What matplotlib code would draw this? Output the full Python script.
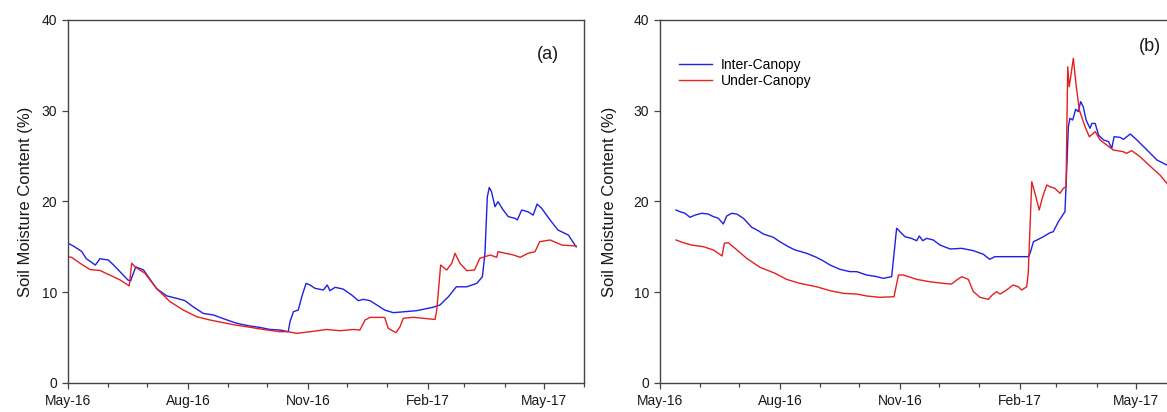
import matplotlib
matplotlib.use("Agg")
import matplotlib.pyplot as plt
import matplotlib.dates as mdates
import pandas as pd

plt.rcParams["font.family"] = ["Liberation Sans", "DejaVu Sans"]

START = pd.Timestamp("2016-05-01")

# Panel (a): days since 1 May 2016 and soil moisture (%)
a_inter_day = [0, 4, 10.5, 14, 21, 24.5, 31, 35, 41, 46, 48, 52, 58, 61.6, 68, 75.7, 83.4, 89.8, 96,
               103.8, 111.5, 119, 128, 132, 139.7, 147, 155, 162.7, 169, 170.4, 173, 176.7, 179.4,
               182.7, 185.7, 189.6, 196, 199, 201, 205, 211, 217.7, 222.8, 226.6, 231.8, 237, 243,
               249.6, 258.6, 267.6, 280, 285.5, 291.9, 298, 306, 313.7, 318, 320, 321.8, 323.3, 325,
               327.7, 330, 334, 337.9, 343, 344.8, 348.2, 353, 357, 360, 363.5, 370, 376, 384, 390]
a_inter_val = [15.4, 15.1, 14.5, 13.7, 13.0, 13.7, 13.55, 13.0, 12.1, 11.35, 11.24, 12.8, 12.45, 11.7,
               10.4, 9.6, 9.33, 9.07, 8.4, 7.67, 7.5, 7.1, 6.65, 6.5, 6.28, 6.13, 5.9, 5.84, 5.65,
               6.76, 7.86, 8.04, 9.5, 10.98, 10.8, 10.43, 10.25, 10.8, 10.17, 10.54, 10.36, 9.7, 9.07,
               9.22, 9.07, 8.6, 8.04, 7.75, 7.86, 7.97, 8.34, 8.6, 9.5, 10.6, 10.6, 10.98, 11.7, 14.3,
               20.5, 21.55, 21.08, 19.43, 19.98, 19.06, 18.33, 18.15, 17.96, 19.06, 18.87, 18.5,
               19.72, 19.25, 17.96, 16.86, 16.3, 15.0]

a_under_day = [0, 2.8, 9.2, 16.9, 24.5, 32, 40, 46, 47, 48.9, 51.4, 59, 68, 78.3, 88.5, 98.8, 109,
               119, 128, 137, 150, 162.7, 169, 175.5, 185.7, 198.5, 208.7, 219, 224, 228, 231.8,
               243, 245.8, 251.7, 254.8, 257.3, 265, 281.7, 283, 286, 290.6, 294.5, 297, 300.8, 306,
               312, 316, 324, 329, 330, 342, 347, 353, 358.4, 362, 370, 379, 390]
a_under_val = [13.9, 13.85, 13.2, 12.5, 12.4, 11.9, 11.35, 10.8, 10.7, 13.2, 12.8, 12.1, 10.4, 8.96,
               8.04, 7.3, 6.94, 6.65, 6.4, 6.2, 5.9, 5.65, 5.65, 5.47, 5.65, 5.9, 5.76, 5.9, 5.84,
               6.94, 7.23, 7.23, 6.02, 5.54, 6.2, 7.13, 7.24, 7.0, 8.04, 13.0, 12.45, 13.19, 14.29,
               13.19, 12.38, 12.45, 13.74, 14.1, 13.85, 14.47, 14.1, 13.85, 14.29, 14.47, 15.57,
               15.76, 15.2, 15.1]

# Panel (b)
b_inter_day = [12.3, 15.3, 19.2, 23, 26.9, 32, 37, 41, 44.8, 48.6, 51.2, 55, 58.9, 64, 70.4, 75.4,
               79.3, 87, 92, 98.5, 103.6, 112.6, 120, 125, 130.5, 138, 145.8, 151, 158.6, 166.3,
               171.4, 177.8, 181.6, 184.2, 188, 193, 197, 199, 201.6, 204.7, 209.7, 214.9, 222.6,
               231.5, 240.5, 248, 253, 257, 261, 282.6, 284, 286.6, 290.3, 294.2, 299.3, 301.8,
               305.7, 310.8, 312, 313.4, 314.6, 316.7, 319, 321, 322.8, 324.8, 327, 330, 331.4, 334,
               336.5, 340.4, 344.2, 346.7, 348.5, 353, 355.7, 360.9, 366, 373.7, 381.4, 389]
b_inter_val = [19.06, 18.88, 18.7, 18.26, 18.5, 18.7, 18.62, 18.33, 18.15, 17.52, 18.4, 18.7, 18.62,
               18.15, 17.16, 16.78, 16.42, 16.05, 15.57, 15.02, 14.66, 14.29, 13.85, 13.48, 13.0,
               12.53, 12.27, 12.27, 11.9, 11.72, 11.53, 11.72, 17.05, 16.67, 16.12, 15.94, 15.68,
               16.2, 15.68, 15.94, 15.76, 15.2, 14.77, 14.84, 14.58, 14.2, 13.63, 13.92, 13.92, 13.92,
               14.29, 15.57, 15.83, 16.12, 16.56, 16.67, 17.77, 18.88, 23.1, 28.24, 29.17, 28.98,
               30.16, 29.9, 31.0, 30.45, 28.98, 28.07, 28.6, 28.6, 27.33, 26.78, 26.6, 25.86, 27.14,
               27.07, 26.85, 27.44, 26.78, 25.68, 24.57, 24.02]

b_under_day = [12.3, 17.9, 24.3, 33.2, 41, 46.6, 47.6, 49.4, 52.4, 57.6, 66.5, 76.7, 88.3, 97.2,
               107.4, 120.3, 130.5, 140.7, 151, 158.6, 168.8, 179.6, 183, 186.7, 197, 207, 217.4,
               223.7, 227.7, 231.5, 236.6, 240.5, 245.6, 252, 255, 258.4, 261, 266, 271, 275, 277.6,
               281.4, 282.6, 285.3, 287.8, 291, 293.7, 296.8, 299.3, 303, 307, 309.5, 311.6, 312.9,
               314, 315.2, 317.2, 319.2, 321.8, 326.2, 329.5, 334, 337.7, 342.8, 347.9, 355.6, 358,
               362, 368.4, 376, 383.7, 389]
b_under_val = [15.76, 15.46, 15.2, 15.02, 14.66, 14.1, 14.0, 15.4, 15.46, 14.84, 13.74, 12.75, 12.09,
               11.42, 10.98, 10.6, 10.17, 9.88, 9.8, 9.59, 9.44, 9.51, 11.9, 11.9, 11.42, 11.16,
               10.98, 10.9, 11.35, 11.71, 11.42, 10.06, 9.44, 9.22, 9.7, 10.06, 9.8, 10.25, 10.8,
               10.6, 10.25, 10.6, 12.09, 22.18, 20.9, 19.06, 20.53, 21.82, 21.63, 21.45, 20.9, 21.45,
               21.63, 34.85, 32.65, 33.75, 35.78, 33.0, 30.08, 28.24, 27.14, 27.7, 26.78, 26.23,
               25.67, 25.49, 25.3, 25.6, 24.94, 23.91, 22.92, 22.0]

series_labels = ["Inter-Canopy", "Under-Canopy"]
y_ticks = [0, 10, 20, 30, 40]


def to_dates(days):
    return START + pd.to_timedelta(days, unit="D")


def style_axis(ax):
    ax.set_xlim(pd.Timestamp("2016-05-01"), pd.Timestamp("2017-06-01"))
    ax.set_ylim(0, 40)
    ax.set_yticks(y_ticks)
    ax.xaxis.set_major_locator(mdates.MonthLocator(bymonth=[2, 5, 8, 11]))
    ax.xaxis.set_major_formatter(mdates.DateFormatter("%b-%y"))
    ax.xaxis.set_minor_locator(mdates.MonthLocator())
    for s in ax.spines.values():
        s.set_color("#444444")
        s.set_linewidth(1.0)
    ax.tick_params(axis="both", which="major", direction="out", length=4, width=0.9,
                   colors="#444444", labelcolor="#1a1a1a", labelsize=10, pad=4)
    ax.tick_params(axis="x", which="minor", direction="out", length=3, width=0.9,
                   colors="#444444")
    ax.set_ylabel("Soil Moisture Content (%)", fontsize=12, color="#1a1a1a")


fig = plt.figure(figsize=(11.67, 4.12), dpi=100)
ax_a = fig.add_axes([68 / 1167, 29 / 412, 516 / 1167, 363 / 412])
ax_b = fig.add_axes([660 / 1167, 29 / 412, 516 / 1167, 363 / 412])

ax_a.plot(to_dates(a_inter_day), a_inter_val, color="#1f1fe6", lw=1.0, label=series_labels[0])
ax_a.plot(to_dates(a_under_day), a_under_val, color="#e61f1f", lw=1.0, label=series_labels[1])
ax_b.plot(to_dates(b_inter_day), b_inter_val, color="#1f1fe6", lw=1.0, label=series_labels[0])
ax_b.plot(to_dates(b_under_day), b_under_val, color="#e61f1f", lw=1.0, label=series_labels[1])

for ax in (ax_a, ax_b):
    style_axis(ax)

ax_a.yaxis.set_label_coords(-0.068, 0.5)
ax_b.yaxis.set_label_coords(-0.083, 0.5)

ax_a.text(0.930, 0.904, "(a)", transform=ax_a.transAxes, fontsize=13,
          ha="center", va="center", color="#1a1a1a")
ax_b.text(0.950, 0.926, "(b)", transform=ax_b.transAxes, fontsize=13,
          ha="center", va="center", color="#1a1a1a")

ax_b.legend(loc="upper left", bbox_to_anchor=(0.036, 0.895), frameon=False, fontsize=10,
            handlelength=2.4, handletextpad=0.65, labelspacing=0.15,
            borderpad=0, borderaxespad=0)

fig.savefig("out.png", dpi=100)
